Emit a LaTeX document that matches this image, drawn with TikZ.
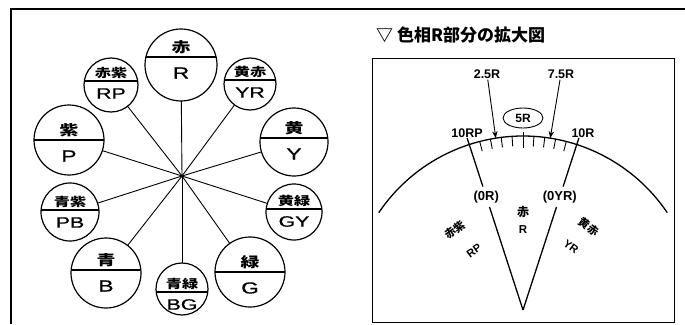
\documentclass[tikz,border=0pt]{standalone}
\usepackage{fontspec}
\setmainfont{Liberation Sans}
\newfontfamily\jp{Noto Sans CJK JP}
\newfontfamily\jpw[FakeStretch=1.35]{Noto Sans CJK JP}
\newfontfamily\latw[FakeStretch=1.42,FakeBold=0.8]{Liberation Sans}
\usetikzlibrary{shapes.geometric,arrows.meta,calc}
\tikzset{
  huebox/.style={circle, draw, line width=1.2pt, inner sep=0pt, outer sep=0pt},
  jpB/.style={font=\jpw\bfseries\fontsize{14}{14}\selectfont, inner sep=0pt, yshift=10pt},
  latB/.style={font=\latw\fontsize{16}{16}\selectfont, inner sep=0pt, yshift=-16pt},
  jpS/.style={font=\jpw\bfseries\fontsize{12}{12}\selectfont, inner sep=0pt, yshift=8pt},
  latS/.style={font=\latw\fontsize{15}{15}\selectfont, inner sep=0pt, yshift=-12.5pt},
  spoke/.style={line width=0.9pt},
  lbl/.style={font=\bfseries\fontsize{12.5}{12.5}\selectfont, inner sep=1pt},
  lblj/.style={font=\jp\bfseries\fontsize{12}{12}\selectfont, inner sep=1pt},
  arcline/.style={line width=1.3pt},
  tick/.style={line width=0.9pt},
  arr/.style={line width=0.9pt, -{Stealth[length=7pt,width=5.5pt]}},
  rot/.style={inner sep=0pt, font=\bfseries\fontsize{11}{11}\selectfont},
}
\newcommand\huecircle[8]{%
  \node[huebox, minimum size={2*#4*1pt}] (#1) at (#2,#3) {};
  \begin{scope}
    \clip (#2,#3) circle[radius=#4];
    \draw[line width=1.1pt] ({#2-#4},{#3+(#5)}) -- ({#2+#4},{#3+(#5)});
  \end{scope}
  \node[jp#8] (#1-jp) at (#2,{#3+(#5)}) {#6};
  \node[lat#8] (#1-lat) at (#2,{#3+(#5)}) {#7};
}
\begin{document}
\begin{tikzpicture}[x=1pt,y=-1pt]
\useasboundingbox (0,0) rectangle (685,324);
% outer frame
\draw[line width=1.1pt] (685,9) -- (11,9) -- (11,324);

% ---- left: hue circle ----
\coordinate (ctr) at (182,176);
\huecircle{R}{181}{65}{36}{-8}{赤}{R}{B}
\huecircle{YR}{250}{84}{26}{-4}{黄赤}{YR}{S}
\huecircle{Y}{294}{142}{34}{-4}{黄}{Y}{B}
\huecircle{GY}{294}{212}{28}{-3}{黄緑}{GY}{S}
\huecircle{G}{250}{272}{35}{0}{緑}{G}{B}
\huecircle{BG}{182}{289}{26}{3}{青緑}{BG}{S}
\huecircle{B}{106}{273}{35}{-3}{青}{B}{B}
\huecircle{PB}{70}{212}{29}{-2}{青紫}{PB}{S}
\huecircle{P}{69}{140}{35}{0}{紫}{P}{B}
\huecircle{RP}{111}{85}{27}{-4}{赤紫}{RP}{S}
\foreach \n in {R,YR,Y,GY,G,BG,B,PB,P,RP}
  \draw[spoke] (ctr) -- (\n);
\fill (ctr) circle[radius=1.6];

% ---- right: enlarged R section ----
\node[anchor=west, font=\jp\bfseries\fontsize{17}{17}\selectfont, inner sep=0pt] (title) at (376,35) {▽ 色相R部分の拡大図};
\draw[line width=0.8pt] (372,58) rectangle (674,322);

\coordinate (O) at (523,310);
\draw[arcline] ([shift={(146:174pt)}]O) arc[start angle=146, end angle=34, radius=174pt];

% boundary lines with labels
\node[lbl, inner sep=4pt, font=\bfseries\fontsize{13}{13}\selectfont] (l0R) at ([shift={(108:119pt)}]O) {(0R)};
\node[lbl, inner sep=4pt, font=\bfseries\fontsize{13}{13}\selectfont] (l0YR) at ([shift={(72:119pt)}]O) {(0YR)};
\coordinate (bL) at ([shift={(108:181pt)}]O);
\coordinate (bR) at ([shift={(72:181pt)}]O);
\draw[arcline] (O) -- (l0R);
\draw[arcline] (l0R) -- (bL);
\draw[arcline] (O) -- (l0YR);
\draw[arcline] (l0YR) -- (bR);

% ticks
\foreach \i in {1,2,3,4,6,7,8,9}{
  \pgfmathsetmacro\a{108-3.6*\i}
  \draw[tick] ([shift={(\a:174pt)}]O) -- ([shift={(\a:164pt)}]O);
}
\draw[tick] ([shift={(90:178pt)}]O) -- ([shift={(90:162pt)}]O);

% labels on top
\node[lbl] (l10RP) at (467,133) {10RP};
\node[lbl] (l10R) at (583,133) {10R};
\node[lbl] (l25) at (487,74) {2.5R};
\node[lbl] (l75) at (561,74) {7.5R};
\coordinate (p25) at ([shift={(99:174pt)}]O);
\coordinate (p75) at ([shift={(81:174pt)}]O);
\draw[arr] (l25) -- (p25);
\draw[arr] (l75) -- (p75);
\node[ellipse, draw, line width=0.9pt, minimum width=40pt, minimum height=20pt, inner sep=0pt, font=\bfseries\fontsize{12}{12}\selectfont] (l5) at (523,118) {5R};

% sector names
\node[lblj] (rjp) at (523,212) {赤};
\node[lbl, font=\bfseries\fontsize{11.5}{11.5}\selectfont] (rlat) at (523,230) {R};
\node[rot, rotate=36] (rpjp) at (455,230) {\jp\bfseries 赤紫};
\node[rot, rotate=36] (rplat) at (474,251) {RP};
\node[rot, rotate=-36] (yrjp) at (589,227) {\jp\bfseries 黄赤};
\node[rot, rotate=-36] (yrlat) at (571,247) {YR};
\end{tikzpicture}
\end{document}
